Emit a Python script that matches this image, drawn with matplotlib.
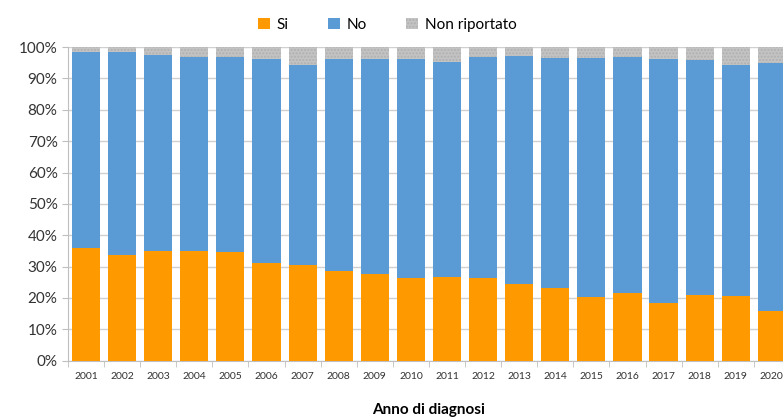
import numpy as np
import matplotlib.pyplot as plt
from matplotlib.ticker import PercentFormatter, FixedLocator

plt.rcParams['font.family'] = ['Lato', 'DejaVu Sans']

# data (percent)
anni = [str(y) for y in range(2001, 2021)]
si = [36.0, 33.8, 35.1, 35.1, 34.6, 31.3, 30.5, 28.5, 27.6, 26.4,
      26.8, 26.3, 24.5, 23.3, 20.2, 21.6, 18.3, 21.1, 20.7, 16.0]
si_piu_no = [98.3, 98.5, 97.4, 97.0, 96.7, 96.3, 94.3, 96.2, 96.3, 96.3,
             95.4, 96.7, 97.1, 96.6, 96.6, 96.7, 96.3, 95.8, 94.2, 94.8]
no = [t - s for t, s in zip(si_piu_no, si)]
non_riportato = [100 - t for t in si_piu_no]

c_si = '#FF9900'
c_no = '#5B9BD5'
c_nr = '#C3C3C3'

fig = plt.figure(figsize=(7.83, 4.17), dpi=100)
ax = fig.add_axes([0.0868, 0.135, 0.922, 0.752])

x = np.arange(len(anni))
w = 0.78
ax.bar(x, si, w, color=c_si, label='Si', zorder=3)
ax.bar(x, no, w, bottom=si, color=c_no, label='No', zorder=3)
ax.bar(x, non_riportato, w, bottom=si_piu_no, color=c_nr, label='Non riportato',
       zorder=3, hatch='.....', edgecolor='#B0B0B0', linewidth=0)

ax.set_xlim(-0.5, len(anni) - 0.5)
ax.set_ylim(0, 100)
ax.set_yticks(np.arange(0, 101, 10))
ax.yaxis.set_major_formatter(PercentFormatter(decimals=0))
ax.grid(axis='y', color='#D0D0D0', linewidth=1, zorder=0)

ax.set_xticks(x)
ax.set_xticklabels(anni, fontsize=7.5, color='#333333')
ax.xaxis.set_minor_locator(FixedLocator(np.arange(-0.5, len(anni), 1)))
ax.tick_params(axis='x', which='major', length=0, pad=8)
ax.tick_params(axis='x', which='minor', length=4, color='#BFBFBF')
ax.tick_params(axis='y', length=4, color='#BFBFBF', labelsize=11, labelcolor='#333333')

for s in ['top', 'right']:
    ax.spines[s].set_visible(False)
ax.spines['left'].set_color('#BFBFBF')
ax.spines['bottom'].set_color('#BFBFBF')

ax.set_xlabel('Anno di diagnosi', fontsize=11, fontweight='bold', labelpad=16)

ax.legend(loc='lower center', bbox_to_anchor=(0.442, 1.005), ncol=3, frameon=False,
          fontsize=11, handlelength=0.8, handleheight=0.8, handletextpad=0.4,
          columnspacing=2.6)

plt.savefig('out.png', dpi=100)
